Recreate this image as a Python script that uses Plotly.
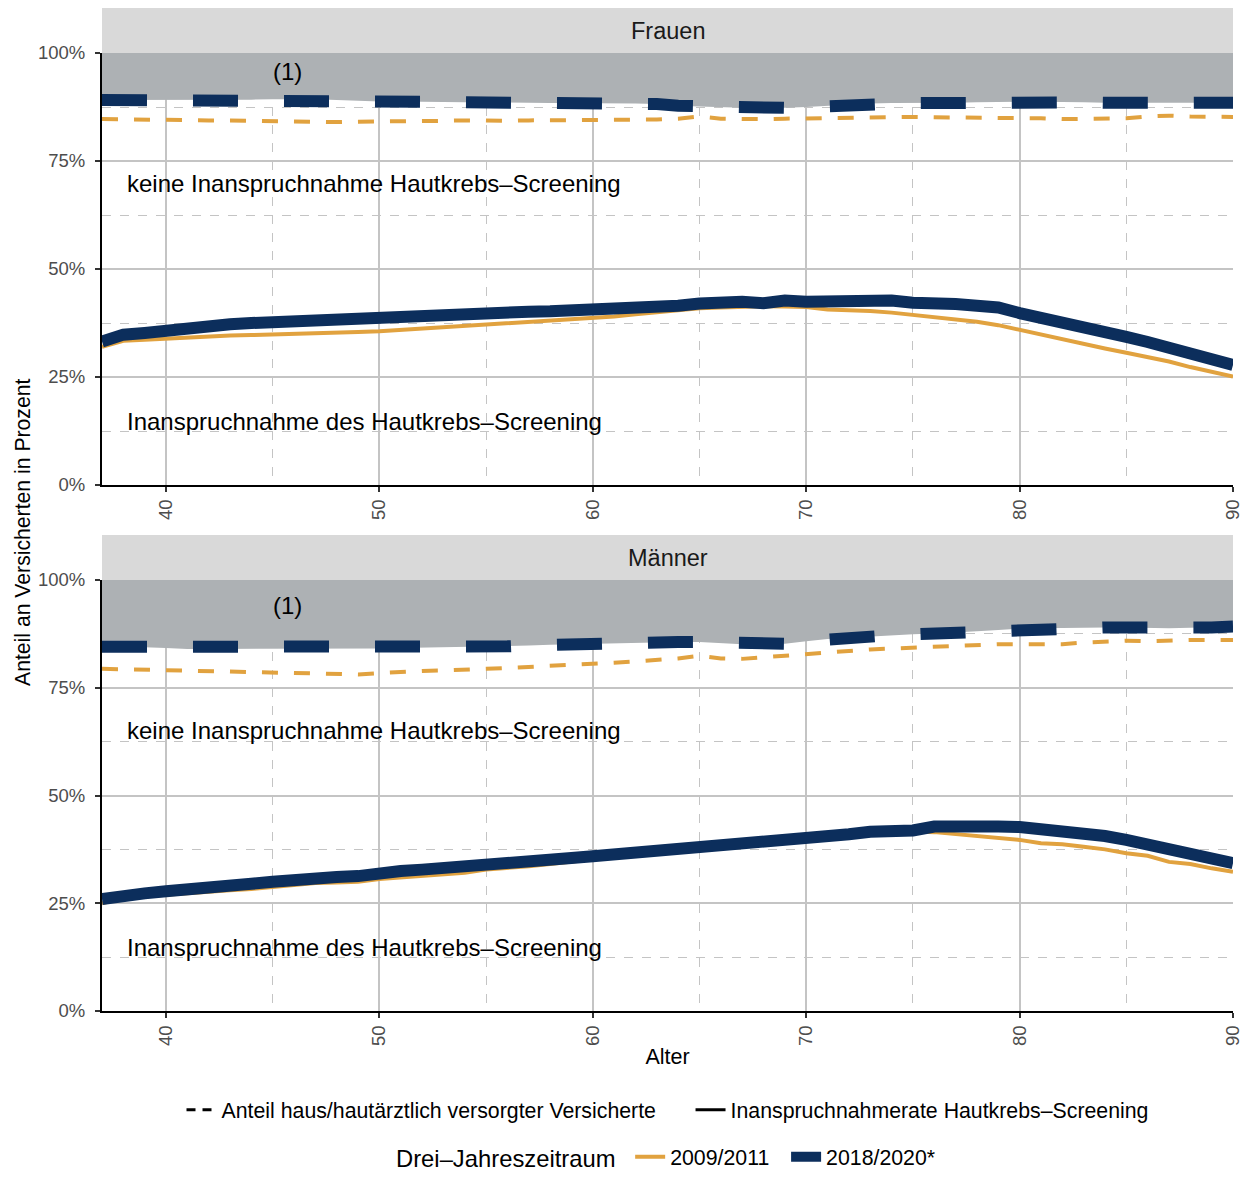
import plotly.graph_objects as go

# ---------------- data ----------------
ages = list(range(37, 91))

# Frauen
cov_f_0911 = [84.7,84.6,84.5,84.4,84.4,84.4,84.4,84.3,84.3,84.2,
              84.1,84.0,84.1,84.1,84.1,84.2,84.3,84.4,84.3,84.3,
              84.4,84.4,84.4,84.4,84.5,84.5,84.6,84.8,85.3,84.8,
              84.7,84.7,84.8,84.9,85.0,85.1,85.2,85.3,85.2,85.1,
              85.1,85.1,85.1,85.0,84.9,84.7,84.7,84.8,84.9,85.3,
              85.5,85.3,85.2,85.2]
cov_f_1820 = [89.1,89.1,89.1,89.1,89.2,89.2,89.2,89.2,89.3,89.3,
              89.3,89.1,88.9,88.8,88.8,88.7,88.7,88.6,88.6,88.6,
              88.5,88.4,88.4,88.4,88.3,88.3,88.2,87.8,87.6,87.4,
              87.3,87.3,87.3,87.5,87.8,88.1,88.3,88.4,88.4,88.4,
              88.5,88.6,88.7,88.7,88.7,88.7,88.6,88.5,88.5,88.5,
              88.4,88.5,88.5,88.5]
scr_f_0911 = [32.0,33.4,33.6,33.9,34.2,34.4,34.6,34.7,34.8,34.9,
              35.1,35.2,35.4,35.6,35.9,36.4,36.7,36.9,37.2,37.5,
              37.7,38.0,38.4,38.6,39.0,39.5,40.0,40.5,40.9,41.1,
              41.3,41.4,41.3,41.2,40.6,40.5,40.3,39.9,39.4,38.9,
              38.4,37.8,37.0,35.9,34.8,33.6,32.6,31.6,30.6,29.6,
              28.6,27.3,26.2,25.1]
scr_f_1820 = [33.2,34.8,35.2,35.8,36.4,36.8,37.2,37.5,37.7,37.9,
              38.2,38.4,38.7,39.3,39.5,39.5,39.9,39.9,40.0,40.1,
              40.1,40.2,40.3,40.4,40.6,40.8,41.0,41.5,42.0,42.3,
              42.4,42.1,42.7,42.4,42.5,42.6,43.1,42.7,42.2,42.2,
              41.9,41.5,41.1,39.8,38.8,37.9,36.9,35.6,34.3,33.1,
              31.9,30.8,29.7,27.8]

# Maenner
cov_m_0911 = [79.4,79.3,79.2,79.0,78.9,78.9,78.7,78.6,78.5,78.4,
              78.2,78.1,78.1,78.4,78.7,78.9,79.0,79.1,79.4,79.6,
              79.8,80.1,80.3,80.5,80.8,81.1,81.4,81.8,82.4,81.8,
              81.7,82.1,82.4,82.7,83.2,83.6,83.9,84.1,84.3,84.6,
              84.8,85.0,85.1,85.1,85.1,85.1,85.5,85.7,85.9,85.8,
              86.0,86.1,86.1,86.1]
cov_m_1820 = [84.5,84.5,84.4,84.2,84.0,84.0,84.0,84.1,84.1,84.1,
              84.1,84.1,84.1,84.1,84.2,84.3,84.4,84.5,84.5,84.6,
              84.8,85.0,85.1,85.2,85.4,85.5,85.6,85.6,85.6,85.4,
              85.1,85.1,85.2,85.8,86.3,86.6,86.9,87.2,87.4,87.6,
              87.8,88.1,88.4,88.7,88.8,88.9,89.0,89.0,89.0,88.9,
              88.8,88.9,89.0,89.2]
scr_m_0911 = [25.0,26.3,26.6,27.0,27.3,27.6,28.0,28.3,28.7,29.2,
              29.7,29.8,30.0,30.6,31.0,31.4,31.7,32.1,32.8,33.1,
              33.6,34.1,34.7,35.3,35.8,36.3,36.8,37.4,38.2,38.7,
              39.1,39.5,39.9,40.2,40.6,41.0,41.3,41.5,41.7,41.5,
              41.0,40.6,40.2,39.7,38.9,38.7,38.1,37.5,36.6,36.0,
              34.6,34.1,33.1,32.3]
scr_m_1820 = [26.0,27.0,27.3,27.8,28.4,28.8,29.2,29.5,30.0,30.5,
              31.0,31.1,31.3,32.2,32.5,32.8,33.1,33.5,34.1,34.3,
              34.8,35.2,35.5,35.9,36.3,36.6,36.9,37.4,38.2,38.7,
              39.1,39.5,39.9,40.2,40.6,41.0,41.6,41.8,41.9,42.8,
              42.6,42.7,42.8,42.7,42.3,41.8,41.2,40.6,39.7,38.6,
              37.2,36.8,35.4,34.3]

panels = ["Frauen", "Männer"]
periods = ["2009/2011", "2018/2020*"]
linetypes = ["Anteil haus/hautärztlich versorgter Versicherte", "Inanspruchnahmerate Hautkrebs–Screening"]
ytick_vals = [0, 25, 50, 75, 100]
ytick_text = ["0%", "25%", "50%", "75%", "100%"]
xtick_vals = [40, 50, 60, 70, 80, 90]
xminor_vals = [45, 55, 65, 75, 85]
yminor_vals = [12.5, 37.5, 62.5, 87.5]
FULL = 100

label_top = "(1)"
label_mid = "keine Inanspruchnahme Hautkrebs–Screening"
label_low = "Inanspruchnahme des Hautkrebs–Screening"
label_pos = {"Frauen": (45.7, 95.8, 69.9, 14.8), "Männer": (45.7, 94.0, 65.0, 14.8)}

# ---------------- style ----------------
FONT = "Liberation Sans, Arial, sans-serif"
ORANGE = "#E1A23F"
NAVY = "#0C2E5C"
GREY_FILL = "#ADB1B4"
STRIP = "#D9D9D9"
GRID = "#C4C4C4"
NB = "\u00a0"

OFF = 8  # default body margin of the html page
W, H = 1253 - 2 * OFF, 1180 - 2 * OFF
ML, MR, MT = 102 - OFF, W - (1233 - OFF), 0
bottom_px = 1011 - OFF
MB = H - bottom_px
paper_h = H - MT - MB
panel_px = [(53 - OFF, 485 - OFF), (580 - OFF, 1011 - OFF)]
strip_px = 45

def frac(py):
    return (H - MB - py) / paper_h

def cont(py):
    return 1 - py / H

fig = go.Figure()

data = {
    "Frauen": (cov_f_0911, cov_f_1820, scr_f_0911, scr_f_1820),
    "Männer": (cov_m_0911, cov_m_1820, scr_m_0911, scr_m_1820),
}

TXT = 24
for i, p in enumerate(panels):
    xa = "x" if i == 0 else "x2"
    ya = "y" if i == 0 else "y2"
    c09, c18, s09, s18 = data[p]
    ph = panel_px[i][1] - panel_px[i][0]
    fig.add_trace(go.Scatter(x=ages, y=[FULL] * len(ages), mode="lines",
                             line=dict(width=0, color=GREY_FILL), showlegend=False,
                             hoverinfo="skip", xaxis=xa, yaxis=ya))
    fig.add_trace(go.Scatter(x=ages, y=c18, mode="lines", fill="tonexty",
                             fillcolor=GREY_FILL, line=dict(width=0, color=GREY_FILL),
                             showlegend=False, hoverinfo="skip", xaxis=xa, yaxis=ya))
    fig.add_trace(go.Scatter(x=ages, y=c09, mode="lines",
                             line=dict(color=ORANGE, width=4, dash="16px,16px"),
                             showlegend=False, xaxis=xa, yaxis=ya))
    fig.add_trace(go.Scatter(x=ages, y=s09, mode="lines",
                             line=dict(color=ORANGE, width=4),
                             showlegend=False, xaxis=xa, yaxis=ya))
    fig.add_trace(go.Scatter(x=ages, y=c18, mode="lines",
                             line=dict(color=NAVY, width=12, dash="45px,46px"),
                             showlegend=False, xaxis=xa, yaxis=ya))
    fig.add_trace(go.Scatter(x=ages, y=s18, mode="lines",
                             line=dict(color=NAVY, width=12),
                             showlegend=False, xaxis=xa, yaxis=ya))

    fig.add_shape(type="rect", xref=f"{xa} domain", yref=f"{ya} domain",
                  x0=0, x1=1, y0=1, y1=1 + strip_px / ph,
                  fillcolor=STRIP, line=dict(width=0), layer="above")
    fig.add_annotation(text=p, xref=f"{xa} domain", yref=f"{ya} domain",
                       x=0.5, y=1 + (strip_px / 2) / ph,
                       showarrow=False, font=dict(size=23.5, color="#1A1A1A", family=FONT),
                       xanchor="center", yanchor="middle")
    lx, ytop, ymid, ylow = label_pos[p]
    fig.add_annotation(text=label_top, x=lx, y=ytop, xref=xa, yref=ya, showarrow=False,
                       font=dict(size=TXT, color="black", family=FONT), xanchor="center")
    fig.add_annotation(text=label_mid, x=38.1, y=ymid, xref=xa, yref=ya, showarrow=False,
                       font=dict(size=TXT, color="black", family=FONT), xanchor="left")
    fig.add_annotation(text=label_low, x=38.1, y=ylow, xref=xa, yref=ya, showarrow=False,
                       font=dict(size=TXT, color="black", family=FONT), xanchor="left")

# legend entries
fig.add_trace(go.Scatter(x=[None], y=[None], mode="lines", name=linetypes[0] + NB * 5,
                         line=dict(color="black", width=3, dash="9px,7px"), legend="legend"))
fig.add_trace(go.Scatter(x=[None], y=[None], mode="lines", name=linetypes[1],
                         line=dict(color="black", width=3), legend="legend"))
fig.add_trace(go.Scatter(x=[None], y=[None], mode="lines", name=periods[0] + NB * 2,
                         line=dict(color=ORANGE, width=4), legend="legend2"))
fig.add_trace(go.Scatter(x=[None], y=[None], mode="lines", name=periods[1],
                         line=dict(color=NAVY, width=12), legend="legend2"))

axis_common = dict(showline=True, linecolor="black", linewidth=2, mirror=False,
                   ticks="outside", ticklen=5, tickwidth=2, tickcolor="#333333",
                   showgrid=True, gridcolor=GRID, gridwidth=2, zeroline=False,
                   tickfont=dict(size=18.5, color="#4D4D4D", family=FONT))

xcommon = dict(axis_common, range=[37, 90], tickvals=xtick_vals, tickangle=-90,
               minor=dict(tickvals=xminor_vals, showgrid=True, gridcolor=GRID,
                          griddash="dash", gridwidth=1, ticks=""))
ycommon = dict(axis_common, range=[0, 100], tickvals=ytick_vals, ticktext=ytick_text,
               ticklabelstandoff=6,
               minor=dict(tickvals=yminor_vals, showgrid=True, gridcolor=GRID,
                          griddash="dash", gridwidth=1, ticks=""))

fig.update_layout(
    width=W, height=H,
    margin=dict(l=ML, r=MR, t=MT, b=MB, autoexpand=False),
    paper_bgcolor="white", plot_bgcolor="white",
    font=dict(family=FONT, color="black"),
    xaxis=dict(xcommon, domain=[0, 1], anchor="y"),
    yaxis=dict(ycommon, domain=[frac(panel_px[0][1]), frac(panel_px[0][0])], anchor="x"),
    xaxis2=dict(xcommon, domain=[0, 1], anchor="y2",
                title=dict(text="Alter", font=dict(size=21.5, color="black", family=FONT), standoff=4)),
    yaxis2=dict(ycommon, domain=[frac(panel_px[1][1]), frac(panel_px[1][0])], anchor="x2"),
    legend=dict(orientation="h", x=0.5, xanchor="center", xref="paper",
                yref="container", y=cont(1110 - OFF), yanchor="middle", traceorder="normal",
                font=dict(size=21.3, color="black", family=FONT), itemwidth=30,
                bgcolor="rgba(0,0,0,0)"),
    legend2=dict(orientation="h", x=0.5, xanchor="center", xref="paper",
                 yref="container", y=cont(1157 - OFF), yanchor="middle", traceorder="normal",
                 font=dict(size=21.3, color="black", family=FONT), itemwidth=30,
                 title=dict(text="Drei–Jahreszeitraum ", font=dict(size=23.8, color="black", family=FONT), side="left"),
                 bgcolor="rgba(0,0,0,0)"),
)

fig.add_annotation(text="Anteil an Versicherten in Prozent", xref="paper", yref="paper",
                   x=(22 - 102) / (W - ML - MR), y=frac(532 - OFF), textangle=-90, showarrow=False,
                   font=dict(size=21.2, color="black", family=FONT),
                   xanchor="center", yanchor="middle")

fig.write_html("out.html")
